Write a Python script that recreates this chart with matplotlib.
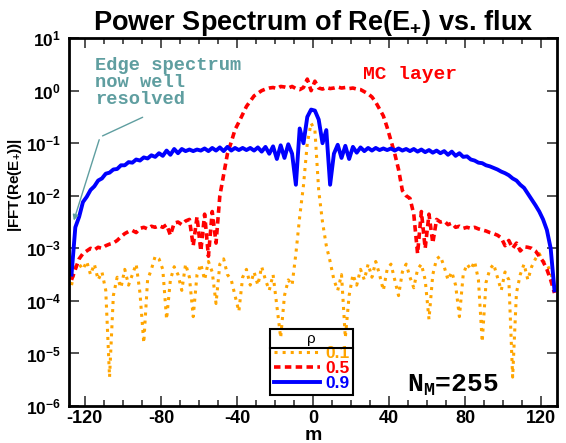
import numpy as np
import matplotlib
matplotlib.use('Agg')
import matplotlib.pyplot as plt
from matplotlib.lines import Line2D

plt.rcParams['font.family'] = 'Liberation Sans'
plt.rcParams['font.weight'] = 'bold'
plt.rcParams['mathtext.fontset'] = 'custom'
plt.rcParams['mathtext.rm'] = 'Liberation Sans:bold'
plt.rcParams['mathtext.bf'] = 'Liberation Sans:bold'
plt.rcParams['mathtext.it'] = 'Liberation Sans:bold'
plt.rcParams['mathtext.tt'] = 'Liberation Mono:bold'
plt.rcParams['axes.unicode_minus'] = False

# mode number m (odd values, -127 ... 127)
m = np.arange(-127, 128, 2)

# log10 |FFT(Re(E+))|, one list per rho
rho_01 = [
    -3.7, -3.35, -3.3, -3.4, -3.25, -3.5, -3.3, -3.6, -3.45, -3.8, -5.45, -3.9, -3.55, -3.75, -3.4, -3.7,
    -3.5, -3.3, -3.85, -4.8, -3.6, -3.4, -3.15, -3.2, -3.4, -4.35, -3.6, -3.35, -3.5, -3.8, -3.3, -3.55,
    -4.3, -3.5, -3.3, -3.6, -3.25, -3.45, -4.05, -3.3, -3.2, -3.5, -3.6, -3.9, -4.2, -3.55, -3.4, -3.7,
    -3.45, -3.7, -3.35, -3.6, -3.8, -3.5, -4.1, -4.7, -3.9, -3.6, -3.7, -3.1, -2.4, -1.8, -1.0, -0.62,
    -0.75, -1.9, -2.5, -2.95, -3.25, -3.6, -3.8, -3.5, -4.7, -3.9, -3.5, -3.7, -3.4, -3.6, -3.3, -3.55,
    -3.25, -3.5, -3.8, -3.4, -3.3, -3.6, -3.9, -3.45, -3.3, -3.55, -3.75, -3.4, -3.3, -3.6, -4.35, -3.5,
    -3.2, -3.15, -3.35, -3.6, -3.45, -3.7, -4.3, -3.5, -3.3, -3.4, -3.25, -3.6, -4.78, -3.65, -3.4, -3.3,
    -3.55, -3.8, -3.45, -3.6, -5.45, -3.85, -3.5, -3.3, -3.6, -3.35, -3.2, -3.1, -3.25, -3.3, -3.45, -3.8,
]
rho_05 = [
    -3.6, -3.4, -3.2, -3.1, -3.05, -3.0, -3.03, -2.98, -3.0, -2.95, -2.92, -2.9, -2.85, -2.78, -2.72, -2.68,
    -2.66, -2.7, -2.62, -2.6, -2.63, -2.58, -2.6, -2.57, -2.6, -2.55, -2.75, -2.52, -2.5, -2.55, -2.48, -2.45,
    -2.95, -2.4, -3.05, -2.35, -3.15, -2.3, -2.9, -2.0, -1.6, -1.2, -0.98, -0.74, -0.6, -0.45, -0.3, -0.2,
    -0.1, -0.05, 0.0, 0.03, 0.05, 0.06, 0.04, 0.08, 0.07, 0.05, 0.08, 0.04, 0.02, 0.06, 0.22, 0.0,
    0.18, 0.05, 0.03, 0.06, 0.04, 0.05, 0.07, 0.05, 0.06, 0.04, 0.05, 0.03, 0.02, -0.02, -0.06, -0.12,
    -0.22, -0.35, -0.48, -0.7, -0.95, -1.2, -1.5, -1.9, -2.0, -2.05, -2.35, -3.1, -2.3, -3.0, -2.35, -2.9,
    -2.45, -2.5, -2.48, -2.55, -2.52, -2.6, -2.58, -2.62, -2.6, -2.62, -2.6, -2.63, -2.65, -2.67, -2.7, -2.72,
    -2.75, -2.8, -2.95, -2.85, -3.0, -2.9, -3.05, -2.97, -2.98, -3.0, -3.05, -3.15, -3.25, -3.4, -3.6, -3.85,
]
rho_09 = [
    -3.5, -2.6, -2.4, -2.12, -2.02, -1.89, -1.82, -1.71, -1.67, -1.58, -1.56, -1.5, -1.49, -1.42, -1.42, -1.36,
    -1.37, -1.31, -1.33, -1.27, -1.29, -1.23, -1.26, -1.19, -1.24, -1.14, -1.22, -1.11, -1.19, -1.11, -1.15, -1.12,
    -1.15, -1.12, -1.14, -1.1, -1.15, -1.09, -1.14, -1.08, -1.15, -1.07, -1.14, -1.09, -1.13, -1.09, -1.13, -1.09,
    -1.14, -1.08, -1.16, -1.07, -1.2, -1.06, -1.3, -1.04, -1.28, -1.02, -1.2, -1.79, -0.72, -1.0, -0.5, -0.36,
    -0.38, -0.55, -1.0, -0.75, -1.79, -1.2, -1.03, -1.28, -1.05, -1.3, -1.07, -1.18, -1.08, -1.15, -1.09, -1.14,
    -1.09, -1.13, -1.1, -1.13, -1.1, -1.14, -1.1, -1.14, -1.11, -1.15, -1.11, -1.16, -1.12, -1.17, -1.13, -1.18,
    -1.14, -1.19, -1.15, -1.22, -1.16, -1.24, -1.19, -1.26, -1.25, -1.31, -1.33, -1.37, -1.38, -1.42, -1.44, -1.47,
    -1.5, -1.54, -1.57, -1.61, -1.67, -1.71, -1.79, -1.85, -1.96, -2.07, -2.18, -2.3, -2.45, -2.65, -3.0, -3.8,
]

fig = plt.figure(figsize=(5.66, 4.43), dpi=100)
ax = fig.add_axes([0.122, 0.0835, 0.862, 0.8305])

ax.plot(m, 10 ** np.array(rho_01), color='#FFA500', linestyle=':', lw=2.2, label='0.1')
ax.plot(m, 10 ** np.array(rho_05), color='#FF0000', linestyle=(0, (1.8, 1.2)), lw=2.6, label='0.5')
ax.plot(m, 10 ** np.array(rho_09), color='#0000FF', linestyle='-', lw=2.8, label='0.9')

ax.set_yscale('log')
ax.set_xlim(-128.3, 128.3)
ax.set_ylim(1e-6, 1e1)

# ticks
xt = [-120, -80, -40, 0, 40, 80, 120]
ax.set_xticks(xt)
ax.set_xticklabels([str(v) for v in xt], fontsize=13, fontweight='bold')
ax.set_xticks(np.arange(-120, 121, 10), minor=True)
dec = [-6, -5, -4, -3, -2, -1, 0, 1]
ax.set_yticks([10.0 ** d for d in dec])
ax.set_yticklabels([r'$\mathbf{10^{%d}}$' % d for d in dec], fontsize=12.5)
ax.yaxis.set_minor_locator(matplotlib.ticker.NullLocator())
ax.tick_params(which='both', direction='in', top=True, right=True, width=1.3, color='#444444')
ax.tick_params(which='major', length=7)
ax.tick_params(axis='y', which='major', pad=6)
ax.tick_params(axis='x', which='major', pad=3)
ax.tick_params(which='minor', length=4)
for s in ax.spines.values():
    s.set_linewidth(2)

ax.set_title(r'Power Spectrum of Re(E$_{+}$) vs. flux', fontsize=19.5, fontweight='bold', pad=6)
ax.set_ylabel(r'|FFT(Re(E$_{+}$))|', fontsize=11, fontweight='bold')
ax.yaxis.set_label_coords(-0.092, 0.60)
ax.set_xlabel('m', fontsize=14, fontweight='bold')
ax.xaxis.set_label_coords(0.5, -0.057)

# annotations
teal = '#5F9EA0'
ax.text(0.053, 0.948, 'Edge spectrum\nnow well\nresolved', transform=ax.transAxes,
        family='Liberation Mono', fontweight='bold', fontsize=13.5, color=teal,
        va='top', ha='left', linespacing=1.0)
ax.annotate('', xy=(0.0635, 0.731), xytext=(0.156, 0.788), xycoords='axes fraction',
            arrowprops=dict(arrowstyle='-', color=teal, lw=1))
ax.annotate('', xy=(0.008, 0.497), xytext=(0.0635, 0.731), xycoords='axes fraction',
            arrowprops=dict(arrowstyle='-|>', color=teal, lw=1, mutation_scale=8))
ax.text(0.602, 0.90, 'MC layer', transform=ax.transAxes, family='Liberation Mono',
        fontweight='bold', fontsize=14, color='#FF0000', va='center', ha='left')

ax.text(0.692, 0.057, r'N$_\mathtt{M}$=255', transform=ax.transAxes, family='Liberation Mono',
        fontweight='bold', fontsize=19, va='center', ha='left')

leg = ax.legend(loc='lower left', bbox_to_anchor=(0.412, 0.030), borderaxespad=0,
                title='\u03c1', fancybox=False, edgecolor='black', facecolor='none',
                prop={'weight': 'bold', 'size': 12.5}, handlelength=2.7,
                handletextpad=0.3, labelspacing=0.0, borderpad=0.2)
leg.get_frame().set_linewidth(1.5)
leg.get_frame().set_alpha(None)
leg.get_title().set_fontsize(11)
leg.get_title().set_fontweight('normal')
for txt, c in zip(leg.get_texts(), ['#FFA500', '#FF0000', '#0000FF']):
    txt.set_color(c)

fig.canvas.draw()
r = fig.canvas.get_renderer()
lb = leg.get_window_extent(r)
tb = leg.get_title().get_window_extent(r)
yline = (tb.y0 - 2) / fig.bbox.height
fig.add_artist(Line2D([lb.x0 / fig.bbox.width, lb.x1 / fig.bbox.width], [yline, yline],
                      color='black', lw=1.5, transform=fig.transFigure))

fig.savefig('out.png', dpi=100)
